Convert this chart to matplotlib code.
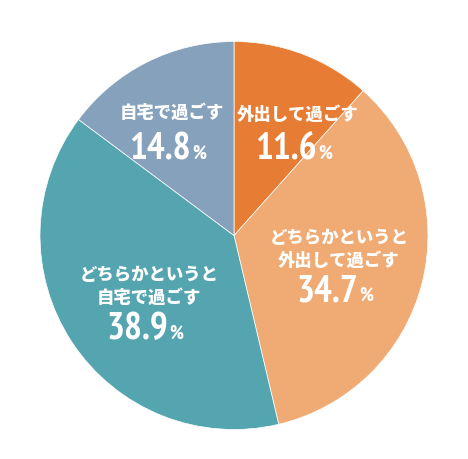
import matplotlib
matplotlib.use("Agg")
import matplotlib.pyplot as plt
from matplotlib import font_manager as fm

labels = ["外出して過ごす", "どちらかというと\n外出して過ごす", "どちらかというと\n自宅で過ごす", "自宅で過ごす"]
values = [11.6, 34.7, 38.9, 14.8]
colors = ["#E77D34", "#F0AA73", "#54A5B0", "#86A1BB"]

# pick a condensed bold face for the numbers if one exists
cands = []
for f in fm.fontManager.ttflist:
    fn = f.fname.lower()
    if ("condensed" in fn or "narrow" in fn) and "bold" in fn and "oblique" not in fn and "italic" not in fn:
        cands.append(f.fname)
pref = [c for c in cands if "narrow" in c.lower()] + [c for c in cands if "dejavu" in c.lower()] + cands
if pref:
    num_prop = fm.FontProperties(fname=pref[0])
else:
    num_prop = fm.FontProperties(family="DejaVu Sans", weight="bold", stretch="condensed")

jp_font = ["Noto Sans CJK JP", "DejaVu Sans"]

W, H = 468, 460
fig = plt.figure(figsize=(W / 100, H / 100), dpi=100)
ax = fig.add_axes([0, 0, 1, 1])

cx, cy, r = 234, H - 236.5, 194
ax.pie(values, colors=colors, startangle=90, counterclock=False,
       center=(cx, cy), radius=r, frame=True,
       wedgeprops=dict(edgecolor="white", linewidth=0.5))
ax.set_xlim(0, W)
ax.set_ylim(0, H)
ax.axis("off")

# label positions (pixel coords, y from top)
pos = [
    (298, [115], 146),
    (339, [238, 261], 288),
    (149, [275, 298], 326),
    (172, [113], 146),
]

for lab, v, (x, ys, yn) in zip(labels, values, pos):
    for line, y in zip(lab.split("\n"), ys):
        ax.text(x, H - y, line, ha="center", va="center", color="white",
                fontsize=12.5, fontweight="heavy", family=jp_font)
    p1 = num_prop.copy(); p1.set_size(27)
    p2 = num_prop.copy(); p2.set_size(14)
    split = x + 19
    ax.text(split, H - yn - 13, f"{v:.1f}", ha="right", va="baseline", color="white",
            fontproperties=p1)
    ax.text(split + 1, H - yn - 13, "%", ha="left", va="baseline", color="white",
            fontproperties=p2)

fig.savefig("out.png", dpi=100, facecolor="white")
